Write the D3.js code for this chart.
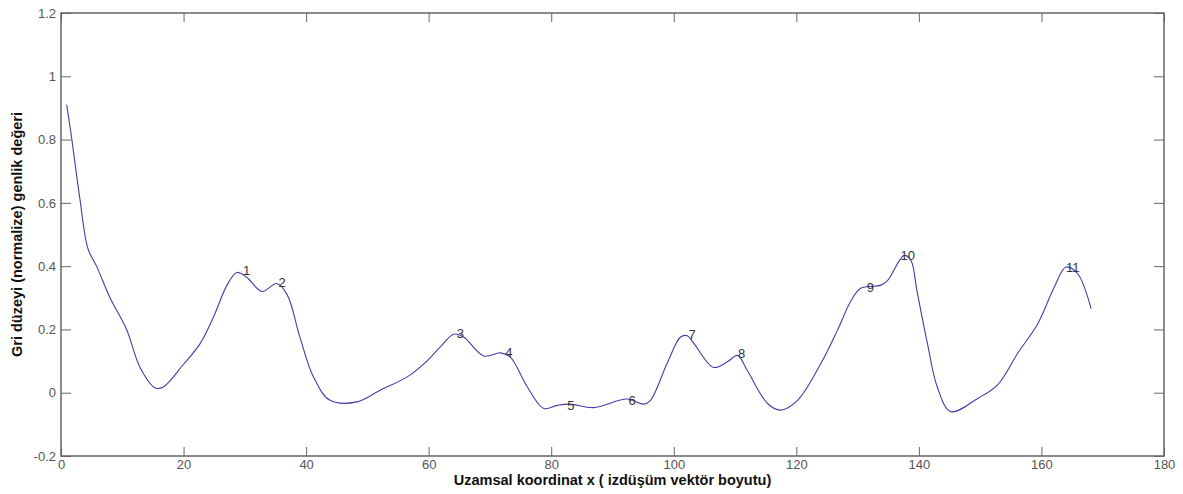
<!DOCTYPE html>
<html><head><meta charset="utf-8">
<script src="https://cdn.jsdelivr.net/npm/d3@7"></script>
<style>body{margin:0;background:#fff;} svg{display:block;}</style>
</head><body>
<svg id="c" width="1183" height="494"></svg>
<script>
const xs = [0.93,1.7,3.1,4.4,5.8,8,10.7,12.9,15.4,16.7,20,22.7,24.9,27.1,28.7,30.3,32.8,35.2,36.9,39,41.2,43.9,48.3,52.1,56.5,59.7,61.9,64.1,65.7,69,71.7,73.3,76.1,78.8,81,83.1,86.9,92.4,95.1,96.2,98.9,101.1,102.2,103.3,106.5,108.7,110.4,112,115.3,117.4,120.2,124,126.7,128.9,130.5,133.8,134.9,137.6,138.7,139.7,141.4,143,145.2,149.6,152.8,156.1,159.4,162.1,164,165.9,168.1];
const ys = [0.91,0.81,0.61,0.455,0.40,0.30,0.20,0.08,0.015,0.018,0.09,0.155,0.24,0.34,0.38,0.365,0.32,0.345,0.31,0.175,0.05,-0.024,-0.029,0.008,0.05,0.10,0.145,0.185,0.176,0.116,0.126,0.113,0.018,-0.05,-0.04,-0.036,-0.047,-0.02,-0.036,-0.024,0.092,0.176,0.18,0.155,0.08,0.097,0.118,0.07,-0.034,-0.055,-0.024,0.092,0.197,0.29,0.33,0.34,0.355,0.434,0.418,0.32,0.155,0.018,-0.06,-0.018,0.024,0.124,0.218,0.334,0.397,0.376,0.266];
const peakLabels = ["1","2","3","4","5","6","7","8","9","10","11"];
const peakX = [29.7,35.5,64.6,72.5,82.6,92.6,102.4,110.5,131.5,137.0,164.0];
const peakY = [0.385,0.349,0.188,0.128,-0.039,-0.024,0.185,0.124,0.334,0.434,0.396];
const xTicks = [0,20,40,60,80,100,120,140,160,180];
const yTicks = [-0.2,0,0.2,0.4,0.6,0.8,1,1.2];
const xLabel = "Uzamsal koordinat x ( izdüşüm vektör boyutu)";
const yLabel = "Gri düzeyi (normalize) genlik değeri";

const svg = d3.select("#c");
const L=61, R=1164, T=13, B=456;
const x = d3.scaleLinear().domain([0,180]).range([L,R]);
const y = d3.scaleLinear().domain([-0.2,1.2]).range([B,T]);
const axisColor="#666", font="Arial, 'Liberation Sans', sans-serif";

function styleAxis(g){
  g.select(".domain").remove();
  g.selectAll(".tick line").attr("stroke",axisColor);
  g.selectAll(".tick text").attr("fill","#555").style("font-family",font).style("font-size","13px");
}
svg.append("g").attr("transform",`translate(0,${B})`)
  .call(d3.axisBottom(x).tickValues(xTicks).tickSizeInner(-9).tickSizeOuter(0).tickPadding(4).tickFormat(d3.format("d")))
  .call(styleAxis);
svg.append("g").attr("transform",`translate(0,${T})`)
  .call(d3.axisTop(x).tickValues(xTicks).tickSizeInner(-9).tickSizeOuter(0).tickFormat(""))
  .call(styleAxis);
svg.append("g").attr("transform",`translate(${L},0)`)
  .call(d3.axisLeft(y).tickValues(yTicks).tickSizeInner(-10).tickSizeOuter(0).tickPadding(5).tickFormat(d=>String(+d.toFixed(1))))
  .call(styleAxis);
svg.append("g").attr("transform",`translate(${R},0)`)
  .call(d3.axisRight(y).tickValues(yTicks).tickSizeInner(-10).tickSizeOuter(0).tickFormat(""))
  .call(styleAxis);
svg.append("rect").attr("x",L).attr("y",T).attr("width",R-L).attr("height",B-T)
  .attr("fill","none").attr("stroke",axisColor).attr("stroke-width",1.5);

const data = xs.map((v,i)=>[v,ys[i]]);
svg.append("path").datum(data)
  .attr("fill","none").attr("stroke","#4a3aa8").attr("stroke-width",1.1)
  .attr("d", d3.line().x(d=>x(d[0])).y(d=>y(d[1])).curve(d3.curveCatmullRom.alpha(0.5)));

svg.append("g").selectAll("text").data(peakLabels).join("text")
  .attr("x",(d,i)=>x(peakX[i])).attr("y",(d,i)=>y(peakY[i]))
  .attr("dy","0.35em").attr("fill","#333")
  .style("font-family",font).style("font-size","13px").text(d=>d);

svg.append("text").attr("x",(L+R)/2).attr("y",485).attr("text-anchor","middle")
  .style("font-family",font).style("font-size","14.5px").style("font-weight","bold").attr("fill","#111").text(xLabel);
svg.append("text").attr("transform",`translate(22,${(T+B)/2}) rotate(-90)`).attr("text-anchor","middle")
  .style("font-family",font).style("font-size","14.5px").style("font-weight","bold").attr("fill","#111").text(yLabel);
</script>
</body></html>
